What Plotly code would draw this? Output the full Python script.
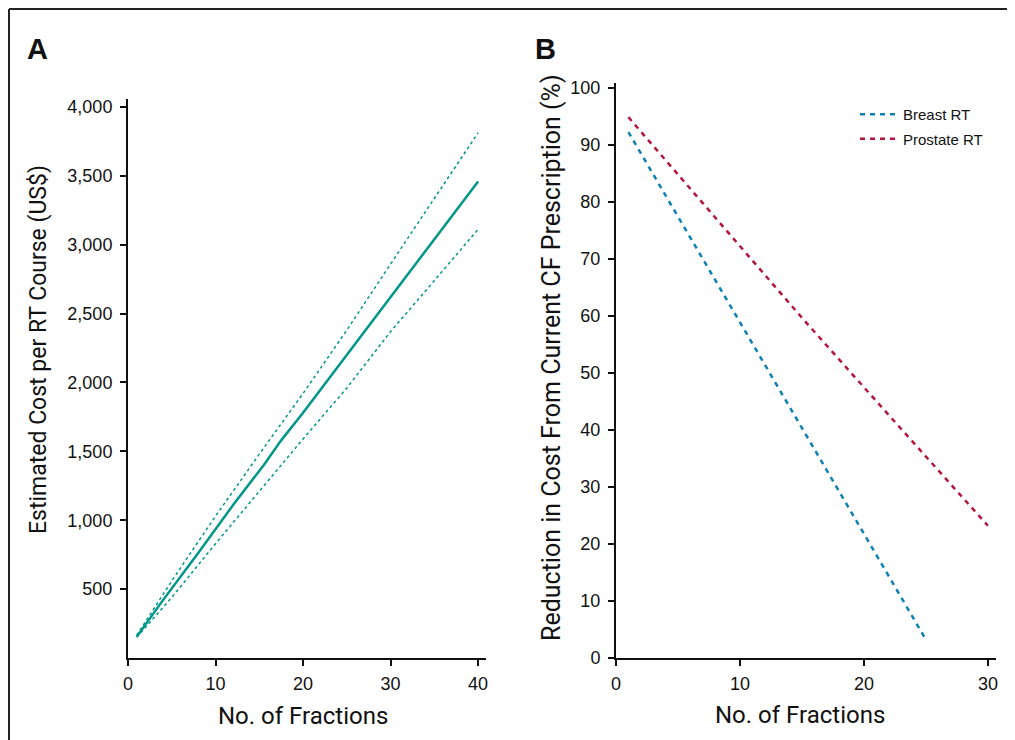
import plotly.graph_objects as go

# The page body adds an 8px margin, so the figure is drawn 8px smaller and
# all pixel positions below are given in page coordinates minus that offset.
OFF = 8
W, H = 1015 - OFF, 740 - OFF

# ---- Data ----
# Panel A: estimated cost per RT course vs number of fractions
a_fractions = [1, 4, 8, 12, 15.5, 17.5, 20, 25, 30, 35, 40]
a_cost_mean = [155, 420, 760, 1110, 1400, 1580, 1780, 2200, 2620, 3040, 3460]
a_ci_fractions = [1, 5, 10, 15, 20, 25, 30, 35, 40]
a_cost_upper = [165, 560, 1030, 1480, 1920, 2380, 2860, 3340, 3813]
a_cost_lower = [150, 440, 830, 1210, 1590, 1960, 2370, 2740, 3112]
a_xticks = [0, 10, 20, 30, 40]
a_yticks = [500, 1000, 1500, 2000, 2500, 3000, 3500, 4000]

# Panel B: reduction in cost from current CF prescription (%)
b_breast_fractions = [1, 5, 10, 15, 20, 25]
b_breast_reduction = [92.3, 77.5, 58.9, 40.3, 21.8, 3.2]
b_prostate_fractions = [1, 5, 10, 15, 20, 25, 30]
b_prostate_reduction = [94.9, 84.9, 72.3, 59.7, 47.5, 35.3, 23.2]
b_xticks = [0, 10, 20, 30]
b_yticks = [0, 10, 20, 30, 40, 50, 60, 70, 80, 90, 100]

TEAL = "#00968a"
BLUE = "#0d80b6"
RED = "#b2173b"
TICKFONT = dict(family="Liberation Sans, Arial, sans-serif", size=18, color="#111")
TITLEFONT = "Roboto, Liberation Sans, sans-serif"


def px_x(p):
    return (p - OFF) / W


def px_y(p):
    return 1 - (p - OFF) / H


fig = go.Figure()

# Panel A traces
fig.add_trace(go.Scatter(x=a_ci_fractions, y=a_cost_upper, mode="lines",
                         line=dict(color=TEAL, width=1.5, dash="dot"),
                         xaxis="x", yaxis="y", showlegend=False))
fig.add_trace(go.Scatter(x=a_ci_fractions, y=a_cost_lower, mode="lines",
                         line=dict(color=TEAL, width=1.5, dash="dot"),
                         xaxis="x", yaxis="y", showlegend=False))
fig.add_trace(go.Scatter(x=a_fractions, y=a_cost_mean, mode="lines",
                         line=dict(color=TEAL, width=2.5),
                         xaxis="x", yaxis="y", showlegend=False))

# Panel B traces
fig.add_trace(go.Scatter(x=b_breast_fractions, y=b_breast_reduction, mode="lines",
                         name="Breast RT", legendgroup="breast",
                         line=dict(color=BLUE, width=2.5, dash="5px,5px"),
                         xaxis="x2", yaxis="y2"))
fig.add_trace(go.Scatter(x=b_prostate_fractions, y=b_prostate_reduction, mode="lines",
                         name="Prostate RT", legendgroup="prostate",
                         line=dict(color=RED, width=2.5, dash="5px,5px"),
                         xaxis="x2", yaxis="y2"))

axis_common = dict(showgrid=False, zeroline=False, showline=True, linecolor="#111",
                   linewidth=2, ticks="outside", ticklen=6, tickwidth=1.5,
                   tickcolor="#111", tickfont=TICKFONT, mirror=False, automargin=False)

fig.update_layout(
    width=W, height=H,
    margin=dict(l=0, r=0, t=0, b=0, pad=0),
    paper_bgcolor="white", plot_bgcolor="white",
    xaxis=dict(domain=[px_x(128), px_x(486)], range=[0, 40.9], tickvals=a_xticks,
               anchor="y", ticklabelstandoff=2, **axis_common),
    yaxis=dict(domain=[px_y(658), px_y(99)], range=[0, 4058], tickvals=a_yticks,
               tickformat=",", anchor="x", ticklabelstandoff=4, **axis_common),
    xaxis2=dict(domain=[px_x(616), px_x(996)], range=[0, 30.65], tickvals=b_xticks,
                anchor="y2", ticklabelstandoff=2, **axis_common),
    yaxis2=dict(domain=[px_y(658), px_y(83)], range=[0, 100.9], tickvals=b_yticks,
                anchor="x2", ticklabelstandoff=4, **axis_common),
    legend=dict(x=px_x(855), y=px_y(98), xanchor="left", yanchor="top",
                bgcolor="rgba(0,0,0,0)", font=dict(family="Liberation Sans, Arial, sans-serif",
                                                   size=15, color="#111"),
                tracegroupgap=2, itemwidth=38),
    showlegend=True,
)


def ann(text, x, y, size, family, angle=0):
    return dict(text=text, x=px_x(x), y=px_y(y), xref="paper", yref="paper",
                xanchor="center", yanchor="middle", textangle=angle, showarrow=False,
                font=dict(family=family, size=size, color="#111"))


annotations = [
    ann("<b>A</b>", 37, 49, 29, "Liberation Sans, Arial, sans-serif"),
    ann("<b>B</b>", 545, 49, 29, "Liberation Sans, Arial, sans-serif"),
    ann("No. of Fractions", 303, 716, 24, TITLEFONT),
    ann("No. of Fractions", 800, 715, 24, TITLEFONT),
    ann("Estimated Cost per RT Course (US$)", 38, 350, 23, TITLEFONT, -90),
    ann("Reduction in Cost From Current CF Prescription (%)", 551, 358, 25, TITLEFONT, -90),
]
fig.update_layout(annotations=annotations)

fig.update_layout(shapes=[
    dict(type="line", xref="paper", yref="paper", x0=px_x(9), x1=1.05, y0=px_y(9), y1=px_y(9),
         line=dict(color="#222", width=2)),
    dict(type="line", xref="paper", yref="paper", x0=px_x(9), x1=px_x(9), y0=px_y(9), y1=-0.05,
         line=dict(color="#222", width=2)),
])

fig.write_html("out.html")
